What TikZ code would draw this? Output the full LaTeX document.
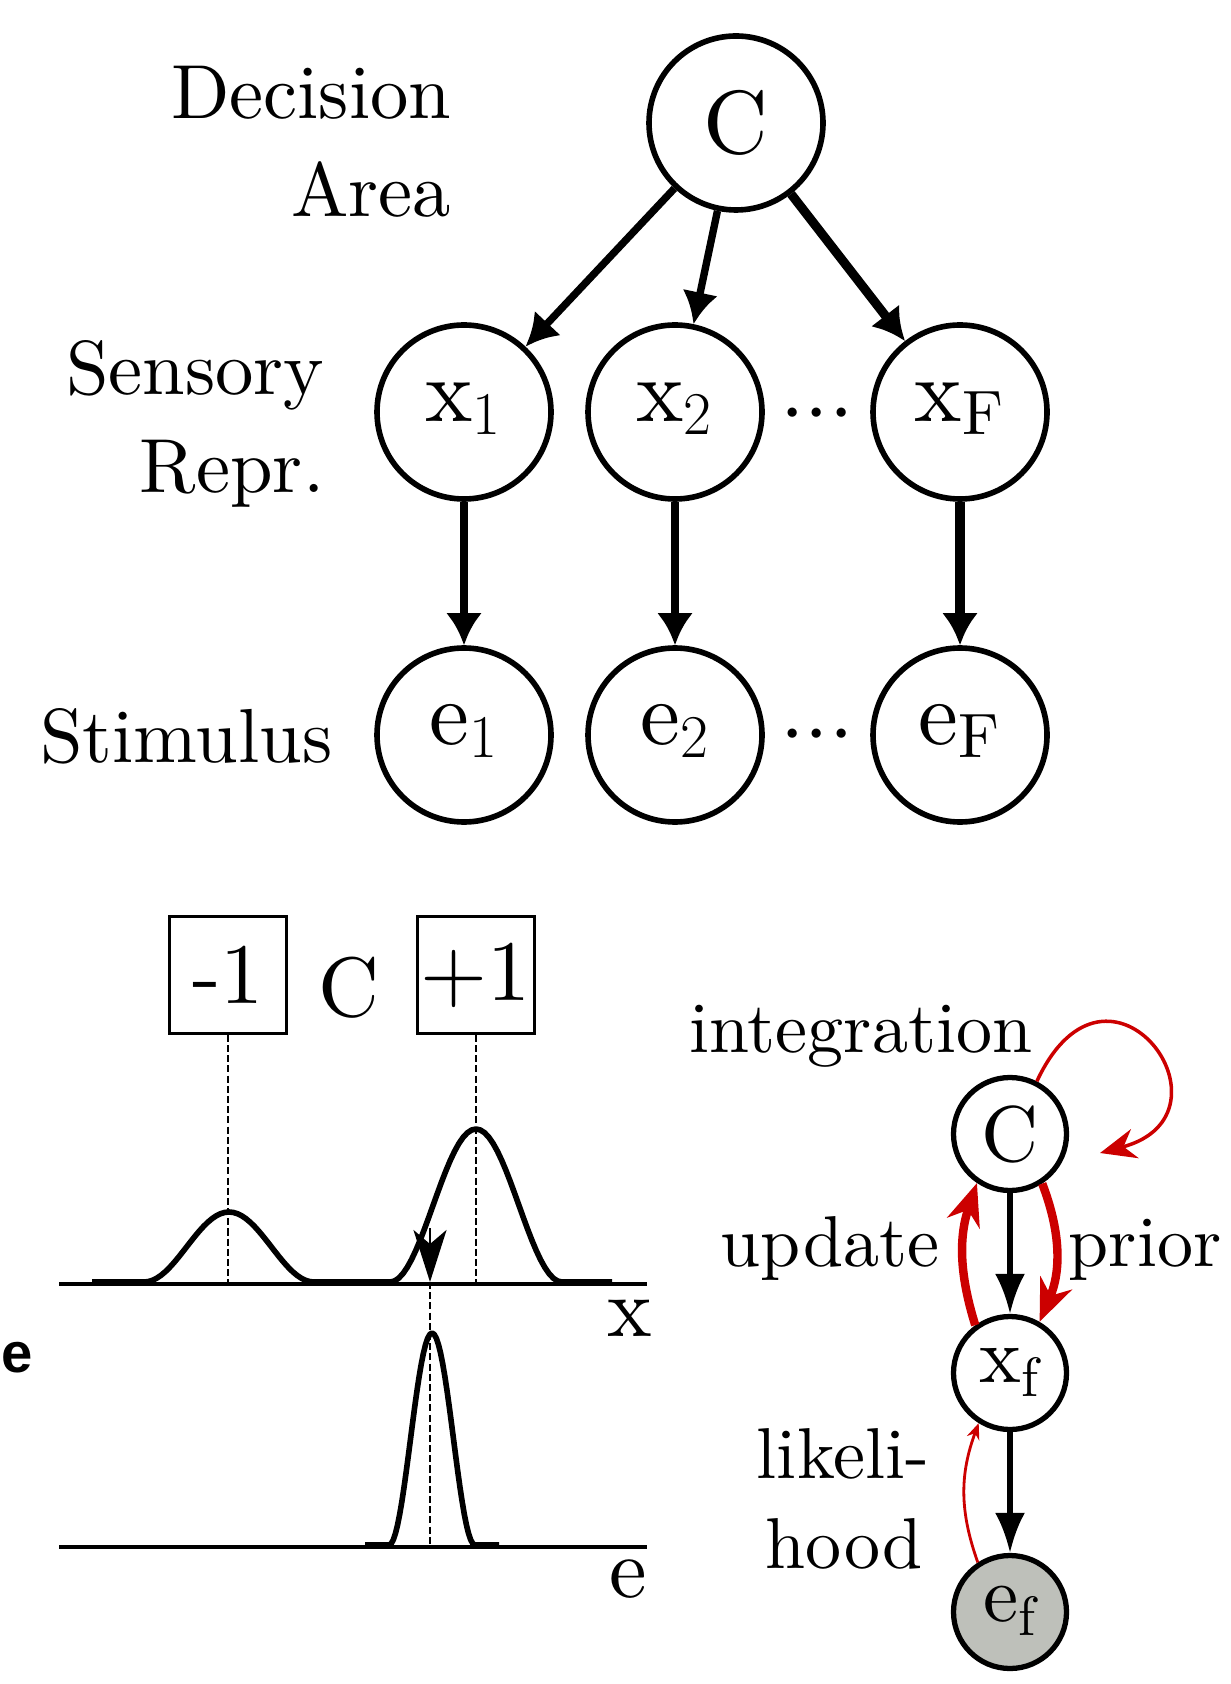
\documentclass[tikz,border=0pt]{standalone}
\usepackage{fontspec}
\setmainfont{lmroman10-regular.otf}
\newfontfamily\panelfont{Liberation Sans}
\usetikzlibrary{arrows.meta}
\definecolor{arcred}{RGB}{204,0,0}
\definecolor{obsgray}{RGB}{190,192,186}
\tikzset{
  var/.style={circle,draw,line width=1.6pt,minimum size=1.74cm,inner sep=0pt,font=\fontsize{25.5}{30}\selectfont},
  var2/.style={circle,draw,line width=1.5pt,minimum size=1.13cm,inner sep=0pt,font=\fontsize{22.5}{27}\selectfont},
  idx/.style={text height=1.5ex,text depth=.2ex},
  lbl/.style={inner sep=0pt,font=\fontsize{21.8}{26}\selectfont},
  word/.style={inner sep=0pt,font=\fontsize{20.5}{25}\selectfont},
  ellip/.style={inner sep=0pt,font=\fontsize{25}{30}\selectfont},
  dep/.style={line width=2.1pt,-{Latex[length=3.2mm,width=3.6mm]}},
  dep2/.style={line width=1.5pt,-{Latex[length=4mm,width=3mm]}},
  fbArr/.style={arcred,line width=2.4pt,-{Stealth[length=4.2mm,width=3.4mm]}},
  loopArr/.style={arcred,line width=1pt,-{Stealth[length=3.6mm,width=3mm]}},
  likeArr/.style={arcred,line width=0.8pt,-{Stealth[length=1.6mm,width=1.3mm]}},
  valbox/.style={draw,line width=0.75pt,minimum size=1.17cm,inner sep=0pt,font=\fontsize{24.5}{29}\selectfont},
  cLabel/.style={inner sep=0pt,font=\fontsize{24}{29}\selectfont},
  baseaxis/.style={line width=1.35pt},
  density/.style={line width=1.6pt,line join=round},
  guideline/.style={line width=0.75pt,dash pattern=on 2pt off 0.9pt},
  sampleArr/.style={line width=0.8pt,-{Stealth[length=5.2mm,width=3.3mm,inset=1.4mm]}}
}
\begin{document}
\begin{tikzpicture}
\useasboundingbox (0,0) rectangle (12.30,-16.84);
\node[var] (C) at (7.36,-1.23) {C};
\node[var,idx] (x1) at (4.64,-4.12) {x$_1$};
\node[var,idx] (x2) at (6.75,-4.12) {x$_2$};
\node[var,idx] (xF) at (9.60,-4.12) {x$_\mathrm{F}$};
\node[var,idx] (e1) at (4.64,-7.35) {e$_1$};
\node[var,idx] (e2) at (6.75,-7.35) {e$_2$};
\node[var,idx] (eF) at (9.60,-7.35) {e$_\mathrm{F}$};
\node[ellip,idx] (xdots) at (8.17,-4.25) {${\cdot}{\cdot}{\cdot}$};
\node[ellip,idx] (edots) at (8.17,-7.46) {${\cdot}{\cdot}{\cdot}$};
\node[lbl,anchor=base east] (decision) at (4.52,-1.19) {Decision};
\node[lbl,anchor=base east] (area) at (4.52,-2.17) {Area};
\node[lbl,anchor=base east] (sensory) at (3.25,-3.95) {Sensory};
\node[lbl,anchor=base east] (repr) at (3.25,-4.93) {Repr.};
\node[lbl,anchor=base east] (stimulus) at (3.33,-7.62) {Stimulus};
\foreach \t in {x1,x2} \draw[dep] (C) -- (\t);
\draw[dep,line width=2.6pt] (C) -- (xF);
\foreach \i in {1,2} \draw[dep] (x\i) -- (e\i);
\draw[dep,line width=3pt] (xF) -- (eF);

\node[valbox] (neg) at (2.28,-9.75) {-1};
\node[valbox] (pos) at (4.76,-9.75) {+1};
\node[cLabel] (Cval) at (3.49,-9.88) {C};
\coordinate (xL) at (0.59,-12.84);
\coordinate (xR) at (6.47,-12.84);
\coordinate (eL) at (0.59,-15.47);
\coordinate (eR) at (6.47,-15.47);
\coordinate (smp) at (4.30,-12.82);
\coordinate (smpTop) at (4.30,-12.28);
\draw[guideline] (neg.south) -- (neg.south |- xL);
\draw[guideline] (pos.south) -- (pos.south |- xL);
\draw[guideline] (smp) -- (smp |- eL);
\draw[baseaxis] (xL) -- (xR);
\draw[baseaxis] (eL) -- (eR);
\draw[density] (0.92,-12.82) -- plot[domain=1.44:3.14,samples=41] (\x,{-12.82+0.70*pow(cos(90*(\x-2.29)/0.85),2)})
  -- plot[domain=3.90:5.62,samples=41] (\x,{-12.82+1.53*pow(cos(90*(\x-4.76)/0.86),2)}) -- (6.12,-12.82);
\draw[density] (3.65,-15.45) -- plot[domain=3.89:4.75,samples=41] (\x,{-15.45+2.12*pow(cos(90*(\x-4.32)/0.43),2)}) -- (4.99,-15.45);
\draw[sampleArr] (smpTop) -- (smp);
\node[cLabel] (xlab) at (6.30,-13.18) {x};
\node[cLabel] (elab) at (6.28,-15.79) {e};
\node[inner sep=0pt,font=\panelfont\bfseries\fontsize{16}{18}\selectfont] (tagE) at (0.17,-13.58) {e};

\node[var2] (Cb) at (10.10,-11.34) {C};
\node[var2,idx] (xf) at (10.10,-13.73) {x$_\mathrm{f}$};
\node[var2,idx,fill=obsgray] (ef) at (10.10,-16.12) {e$_\mathrm{f}$};
\node[word,anchor=base] (integ) at (8.61,-10.52) {integration};
\node[word,anchor=base] (upd) at (8.30,-12.66) {update};
\node[word,anchor=base] (pri) at (11.45,-12.66) {prior};
\node[word,anchor=base] (likeA) at (8.43,-14.78) {likeli-};
\node[word,anchor=base] (likeB) at (8.44,-15.68) {hood};
\coordinate (loopEnd) at (11.00,-11.53);
\draw[loopArr] (Cb.63) .. controls +(65:1.7) and +(15:1.5) .. (loopEnd);
\draw[fbArr] (xf.126) to[bend left=18] (Cb.236);
\draw[fbArr] (Cb.303) to[bend left=22] (xf.60);
\draw[dep2] (Cb) -- (xf);
\draw[dep2] (xf) -- (ef);
\draw[likeArr] (ef.123) to[bend left=20] (xf.238);
\end{tikzpicture}
\end{document}
